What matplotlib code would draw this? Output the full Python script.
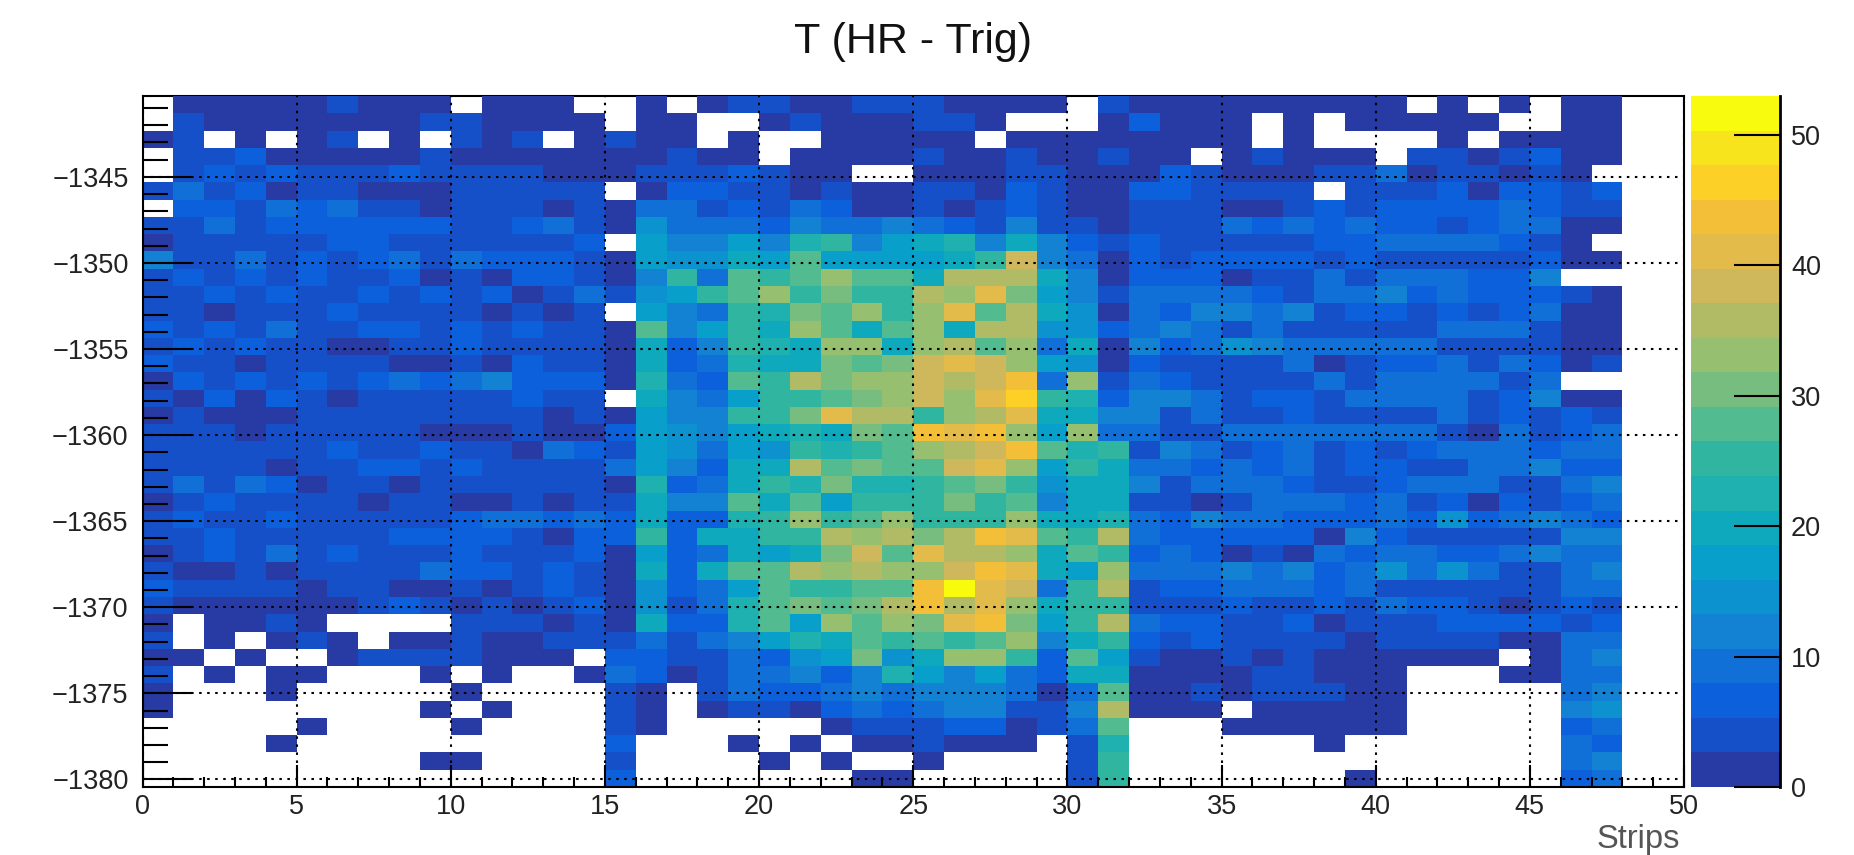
import numpy as np
import matplotlib
matplotlib.use("Agg")
import matplotlib.pyplot as plt
from matplotlib.colors import BoundaryNorm, ListedColormap
from matplotlib.ticker import MultipleLocator

plt.rcParams["font.family"] = ["Liberation Sans", "DejaVu Sans"]

# counts per strip, one list per time row, top row first (0 = empty bin)
r00 = [0,2,2,2,2,2,4,2,2,2,0,2,2,2,0,0, 2,0,2,4,4,2,2,4,4,4,2,2,2,2,0,4, 2,2,2,2,2,2,2,2,2,0,2,0,2,0,2,2]
r01 = [0,4,2,2,2,2,2,2,2,4,4,2,2,2,2,0, 2,2,0,0,2,4,2,2,2,4,4,2,0,0,0,2, 7,2,2,2,0,2,0,2,2,2,2,2,0,0,2,2]
r02 = [2,4,0,2,0,2,4,0,2,0,4,2,4,0,2,4, 2,2,0,2,0,0,2,2,2,2,2,0,2,2,2,2, 2,2,2,2,0,2,0,0,0,0,2,0,2,2,2,2]
r03 = [0,4,4,7,2,2,2,2,2,4,2,2,2,2,2,2, 2,4,2,2,0,2,2,2,2,4,2,2,4,2,2,4, 2,2,0,2,4,2,2,2,0,4,4,2,4,7,2,2]
r04 = [0,4,7,4,7,4,4,4,7,4,4,4,4,2,2,2, 4,4,4,7,4,2,2,0,0,2,2,2,4,4,2,2, 2,7,4,2,2,2,4,4,9,2,4,4,2,4,2,0]
r05 = [4,9,4,7,2,4,4,2,2,2,4,4,4,4,4,0, 2,7,7,4,4,2,4,2,2,4,4,2,7,4,2,2, 7,7,4,4,4,4,0,4,4,4,7,2,7,7,4,7]
r06 = [0,7,7,4,9,7,9,4,4,2,4,4,4,2,4,2, 9,9,4,7,4,9,7,2,2,4,2,4,7,4,2,2, 4,4,4,2,2,4,7,4,7,7,7,7,9,7,4,4]
r07 = [4,4,9,4,7,7,7,7,7,7,4,4,7,9,4,2, 15,9,9,9,7,12,9,9,12,9,7,4,12,4,4,2, 4,4,4,9,7,9,7,9,7,7,4,7,9,9,2,2]
r08 = [2,4,4,4,4,4,7,7,4,4,4,4,4,4,7,0, 17,12,12,17,12,23,25,12,17,20,23,12,20,12,7,4, 7,4,4,4,4,4,7,7,9,9,9,9,7,4,2,0]
r09 = [12,4,4,9,4,7,4,7,9,4,9,7,7,7,4,2, 17,15,15,20,17,28,17,17,17,17,20,25,38,12,9,2, 7,4,7,7,7,7,4,7,4,4,4,4,4,7,2,2]
r10 = [4,7,4,7,4,7,4,4,7,2,4,2,7,7,4,2, 12,25,9,28,25,28,33,28,28,20,36,36,36,20,12,2, 7,7,7,2,4,4,9,4,9,9,9,7,7,12,0,0]
r11 = [4,4,7,4,7,4,4,7,4,7,4,7,2,4,9,4, 15,17,25,28,33,25,30,25,25,36,33,41,30,17,12,4, 9,9,9,9,7,4,9,9,12,7,9,7,7,7,4,2]
r12 = [4,4,2,4,4,4,7,4,4,4,4,2,4,2,4,0, 17,12,9,25,23,30,28,33,25,33,41,28,36,20,15,2, 9,7,12,12,9,12,4,7,7,4,7,4,7,9,2,2]
r13 = [7,4,7,4,9,4,4,7,7,4,7,4,7,4,4,2, 28,12,17,25,20,33,28,20,28,33,20,36,36,15,15,7, 9,12,9,4,9,4,4,4,4,4,9,9,9,4,2,2]
r14 = [4,7,4,7,4,4,2,2,4,4,7,4,4,4,4,2, 20,7,12,25,23,20,33,33,20,33,36,28,33,9,20,2, 12,7,9,15,12,9,9,9,9,9,4,4,4,4,2,2]
r15 = [7,4,4,2,4,4,4,4,2,2,4,2,7,4,4,2, 20,7,9,23,20,20,30,28,30,38,41,38,33,17,15,2, 7,4,4,4,4,9,2,4,7,7,9,4,9,7,2,4]
r16 = [2,7,4,7,4,7,4,7,9,7,9,12,7,7,7,2, 23,9,7,28,25,36,30,33,33,38,36,38,44,9,33,4, 9,7,4,4,4,4,9,4,9,9,9,9,4,9,0,0]
r17 = [4,2,7,2,7,4,2,4,4,4,4,4,7,4,4,0, 20,12,9,17,25,25,28,30,33,38,33,41,46,25,23,7, 12,12,9,4,7,7,4,9,9,9,9,4,7,12,2,2]
r18 = [2,4,2,2,2,4,4,4,4,4,4,4,4,2,4,2, 17,12,12,25,25,30,41,36,36,25,33,36,41,20,20,12, 12,4,9,4,4,7,4,4,4,4,9,4,7,4,7,4]
r19 = [4,4,4,2,4,4,4,4,4,2,2,2,4,2,2,7, 17,15,12,17,20,23,20,30,28,44,41,44,33,17,33,9, 9,4,4,9,9,9,9,9,9,9,4,2,9,4,7,9]
r20 = [4,4,4,4,4,4,7,4,4,7,4,4,2,9,7,4, 17,15,9,17,15,25,23,25,28,33,36,38,44,28,23,25, 4,12,9,4,7,9,4,7,4,7,9,9,9,7,9,9]
r21 = [4,4,4,4,2,4,4,7,7,4,7,4,4,4,4,9, 17,12,7,20,20,36,28,30,28,28,38,41,33,17,25,20, 9,9,7,9,7,9,4,7,7,4,4,9,9,12,7,7]
r22 = [4,9,4,9,7,2,4,4,2,4,4,4,4,4,4,2, 23,7,9,20,25,23,30,23,23,25,28,30,25,15,20,20, 12,4,9,9,9,7,4,4,7,9,9,9,4,4,9,12]
r23 = [2,4,7,4,4,4,4,2,4,4,2,2,4,2,4,4, 20,12,12,28,20,28,17,25,25,25,30,25,28,12,20,20, 4,4,2,4,9,9,9,7,9,4,7,2,7,4,7,9]
r24 = [4,7,4,4,7,4,4,4,4,4,7,9,9,7,9,7, 20,7,7,23,25,33,25,28,33,25,25,25,33,20,20,23, 9,7,12,9,9,7,7,7,9,7,15,7,9,12,9,7]
r25 = [4,4,7,4,4,4,4,4,7,7,7,7,4,2,7,7, 25,7,20,20,25,25,36,33,36,30,36,44,41,28,25,36, 9,7,7,7,7,7,2,12,7,4,4,4,4,4,12,12]
r26 = [2,4,7,4,9,4,7,4,4,4,7,4,4,4,7,2, 17,7,9,20,17,20,30,38,28,41,36,36,33,20,28,25, 7,9,7,2,4,2,9,7,9,9,7,7,9,12,9,9]
r27 = [4,2,2,4,2,4,4,4,4,9,7,7,4,7,4,2, 20,7,20,28,28,36,33,36,33,33,38,44,41,20,17,33, 9,9,9,12,9,12,7,9,15,9,15,9,4,4,9,12]
r28 = [7,4,4,4,4,2,4,4,2,2,4,2,4,7,4,2, 15,7,9,17,28,25,25,28,28,44,52,41,38,9,25,36, 4,7,7,9,9,9,7,9,4,4,4,4,4,4,9,9]
r29 = [4,2,2,2,2,2,2,4,7,4,2,4,2,4,7,2, 15,4,9,23,28,30,28,30,36,44,36,41,33,20,25,25, 4,4,4,7,4,4,7,4,9,7,7,4,2,4,7,4]
r30 = [2,0,2,2,4,2,0,0,0,0,4,4,4,2,4,2, 20,7,7,23,28,17,33,28,33,30,41,44,30,17,25,36, 9,7,7,4,4,7,2,4,4,4,7,7,7,7,4,7]
r31 = [4,0,2,0,2,4,2,0,2,2,4,2,2,4,4,4, 9,4,9,12,17,23,20,28,25,28,25,28,33,12,20,25, 7,4,7,4,4,4,4,2,4,4,4,4,2,2,9,9]
r32 = [2,2,0,2,0,0,2,4,4,4,4,2,2,2,0,7, 7,4,4,9,7,15,17,30,15,20,33,33,25,7,28,17, 4,2,2,4,2,4,2,2,2,2,2,2,0,2,9,12]
r33 = [4,0,2,0,2,2,0,0,0,2,0,2,0,0,2,9, 7,2,4,9,9,12,7,12,23,17,12,17,9,7,20,20, 2,2,2,2,4,4,2,2,2,0,0,0,2,2,9,9]
r34 = [2,0,0,0,2,0,0,0,0,0,2,0,0,0,0,4, 2,0,4,9,7,7,9,12,9,12,12,12,9,2,9,28, 2,2,4,2,4,4,4,2,2,0,0,0,0,0,9,12]
r35 = [2,0,0,0,0,0,0,0,0,2,0,2,0,0,0,4, 2,0,2,4,4,2,7,9,7,9,12,12,4,4,12,36, 2,2,2,0,2,2,2,2,2,0,0,0,0,0,12,15]
r36 = [0,0,0,0,0,2,0,0,0,0,2,0,0,0,0,4, 2,0,0,0,0,0,2,4,4,4,7,7,2,4,9,28, 0,0,0,2,2,2,2,2,2,0,0,0,0,0,7,9]
r37 = [0,0,0,0,2,0,0,0,0,0,0,0,0,0,0,7, 0,0,0,2,0,2,0,2,2,4,2,2,2,0,4,23, 0,0,0,0,0,0,2,0,0,0,0,0,0,0,9,7]
r38 = [0,0,0,0,0,0,0,0,0,2,2,0,0,0,0,4, 0,0,0,0,2,0,2,0,0,2,0,0,0,0,4,25, 0,0,0,0,0,0,0,0,0,0,0,0,0,0,9,12]
r39 = [0,0,0,0,0,0,0,0,0,0,0,0,0,0,0,7, 0,0,0,0,0,0,0,2,2,0,0,0,0,0,4,25, 0,0,0,0,0,0,0,2,0,0,0,0,0,0,7,9]

rows = [r00, r01, r02, r03, r04, r05, r06, r07, r08, r09,
        r10, r11, r12, r13, r14, r15, r16, r17, r18, r19,
        r20, r21, r22, r23, r24, r25, r26, r27, r28, r29,
        r30, r31, r32, r33, r34, r35, r36, r37, r38, r39]

# the 20 colour bands of the palette, bottom to top
bandColors = ["#283aa4", "#1650c8", "#0d60dc", "#1070d8", "#1482d2",
              "#0c92ce", "#08a0ca", "#0fa9bd", "#1fb0b0", "#30b6a0",
              "#52bb90", "#78bd80", "#97bf70", "#b1bb65", "#cfb75c",
              "#e2bb4a", "#f3bf38", "#fdd028", "#f8e41c", "#f9fb0e"]
zMax = 53
zTicks = [0, 10, 20, 30, 40, 50]

yBottom = -1380.44
yTop = -1340.3
W, H = 1854, 855


def pixelAxes(fig, left, top, right, bottom):
    return fig.add_axes([left / W, 1 - bottom / H, (right - left) / W, (bottom - top) / H])


fig = plt.figure(figsize=(W / 100, H / 100), dpi=100)
ax = pixelAxes(fig, 142.5, 96, 1684, 787)

counts = np.ma.masked_equal(np.array(rows[::-1], dtype=float), 0)
xEdges = np.arange(counts.shape[1] + 1)
yEdges = np.linspace(yBottom, yTop, counts.shape[0] + 1)
levels = np.linspace(0, zMax, len(bandColors) + 1)
norm = BoundaryNorm(levels, len(bandColors))
mesh = ax.pcolormesh(xEdges, yEdges, counts, cmap=ListedColormap(bandColors), norm=norm, zorder=2)

ax.set_xlim(0, 50)
ax.set_ylim(yBottom, yTop)
ax.set_axisbelow(False)
ax.xaxis.set_major_locator(MultipleLocator(5))
ax.xaxis.set_minor_locator(MultipleLocator(1))
ax.yaxis.set_major_locator(MultipleLocator(5))
ax.yaxis.set_minor_locator(MultipleLocator(1))
ax.tick_params(axis="x", which="major", direction="in", length=16, width=1.5, labelsize=19.5, pad=5, labelcolor="#222222")
ax.tick_params(axis="x", which="minor", direction="in", length=7.5, width=1.5)
ax.tick_params(axis="y", which="major", direction="in", length=35, width=1.5, labelsize=19.5, pad=10, labelcolor="#222222")
ax.tick_params(axis="y", which="minor", direction="in", length=18, width=1.5)
ax.grid(True, which="major", color="black", linewidth=1.5, linestyle=(0, (1.2, 2.65)))
for side in ax.spines:
    ax.spines[side].set_linewidth(1.5)
ax.spines["top"].set_zorder(1.5)

ax.set_title("T (HR - Trig)", fontsize=31, pad=31, color="#111111")
ax.set_xlabel("Strips", fontsize=23.5, color="#555555")
ax.xaxis.set_label_coords(0.9975, -0.054, transform=ax.transAxes)
ax.xaxis.label.set_ha("right")

cax = pixelAxes(fig, 1691, 96, 1780, 787)
cb = fig.colorbar(mesh, cax=cax, spacing="proportional", ticks=zTicks)
cb.outline.set_visible(False)
cax.axvline(1, color="black", linewidth=2, clip_on=False)
cax.tick_params(direction="in", length=33, width=1.5, labelsize=19.5, pad=8, labelcolor="#222222", which="major")
cax.minorticks_off()

fig.savefig("out.png", dpi=100)
